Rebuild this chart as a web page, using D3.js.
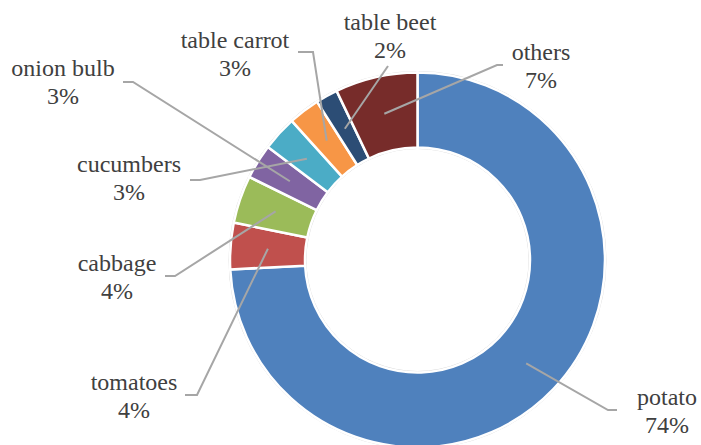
<!DOCTYPE html>
<html>
<head>
<meta charset="utf-8">
<script src="https://cdn.jsdelivr.net/npm/d3@7"></script>
<style>
  body { margin: 0; background: #fff; }
  svg { display: block; }
  text.label { font-family: "Liberation Serif", "Times New Roman", Times, "DejaVu Serif", serif; font-size: 24px; }
</style>
</head>
<body>
<div id="chart"></div>
<script>
// crop shares in percent, clockwise from 12 o'clock
const categories = ["potato", "tomatoes", "cabbage", "onion bulb", "cucumbers", "table carrot", "table beet", "others"];
const shares = [74.2, 4.0, 4.1, 3.0, 3.0, 2.7, 1.9, 7.1];
const colors = ["#4f81bd", "#c0504d", "#9bbb59", "#8064a2", "#4bacc6", "#f79646", "#2c4d75", "#772c2a"];

// label placement: text centre x, first baseline, leader elbow and tail
const labelLayout = {
    "potato":       { tx: 667, ty: 405, elbow: [608, 410], tail: [617, 410] },
    "tomatoes":     { tx: 134, ty: 390, elbow: [197, 395], tail: [185, 395] },
    "cabbage":      { tx: 117, ty: 271, elbow: [175, 276], tail: [165, 276] },
    "onion bulb":   { tx: 63,  ty: 76,  elbow: [133, 82],  tail: [123, 82] },
    "cucumbers":    { tx: 129, ty: 172, elbow: [200, 180], tail: [190, 180] },
    "table carrot": { tx: 235, ty: 48,  elbow: [313, 52],  tail: [298, 52] },
    "table beet":   { tx: 390, ty: 30,  elbow: [388, 66],  tail: null },
    "others":       { tx: 541, ty: 60,  elbow: [497, 65],  tail: [503, 65] }
};

const width = 701, height = 445;
const cx = 417.5, cy = 260;
const outerR = 187.5, innerR = 112.5;

const data = categories.map((c, i) => ({ name: c, value: shares[i], color: colors[i] }));
const total = d3.sum(shares);
const fmt = d3.format(".0%");

const svg = d3.select("#chart")
  .append("svg")
    .attr("width", width)
    .attr("height", height);

const g = svg.append("g")
    .attr("transform", `translate(${cx},${cy})`);

const pie = d3.pie()
    .sort(null)
    .value(d => d.value);

const arc = d3.arc()
    .innerRadius(innerR)
    .outerRadius(outerR);

const arcs = pie(data);

// faint outline round the ring
g.append("circle").attr("r", outerR + 1).attr("fill", "none").attr("stroke", "#d9d9d9").attr("stroke-width", 1);
g.append("circle").attr("r", innerR - 1).attr("fill", "none").attr("stroke", "#d9d9d9").attr("stroke-width", 1);

g.selectAll("path.slice")
  .data(arcs)
  .enter().append("path")
    .attr("class", "slice")
    .attr("d", arc)
    .attr("fill", d => d.data.color)
    .attr("stroke", "#fff")
    .attr("stroke-width", 2.5)
    .attr("stroke-linejoin", "miter");

// leader lines from slice centroid to label
const line = d3.line();
svg.selectAll("path.leader")
  .data(arcs)
  .enter().append("path")
    .attr("class", "leader")
    .attr("fill", "none")
    .attr("stroke", "#a6a6a6")
    .attr("stroke-width", 2)
    .attr("d", d => {
        const c = arc.centroid(d);
        const lay = labelLayout[d.data.name];
        const pts = [[cx + c[0], cy + c[1]], lay.elbow];
        if (lay.tail) pts.push(lay.tail);
        return line(pts);
    });

// labels
const labels = svg.selectAll("text.label")
  .data(arcs)
  .enter().append("text")
    .attr("class", "label")
    .attr("text-anchor", "middle")
    .attr("fill", "#404040");

labels.append("tspan")
    .attr("x", d => labelLayout[d.data.name].tx)
    .attr("y", d => labelLayout[d.data.name].ty)
    .text(d => d.data.name);

labels.append("tspan")
    .attr("x", d => labelLayout[d.data.name].tx)
    .attr("dy", 28)
    .text(d => fmt(d.data.value / total));
</script>
</body>
</html>
